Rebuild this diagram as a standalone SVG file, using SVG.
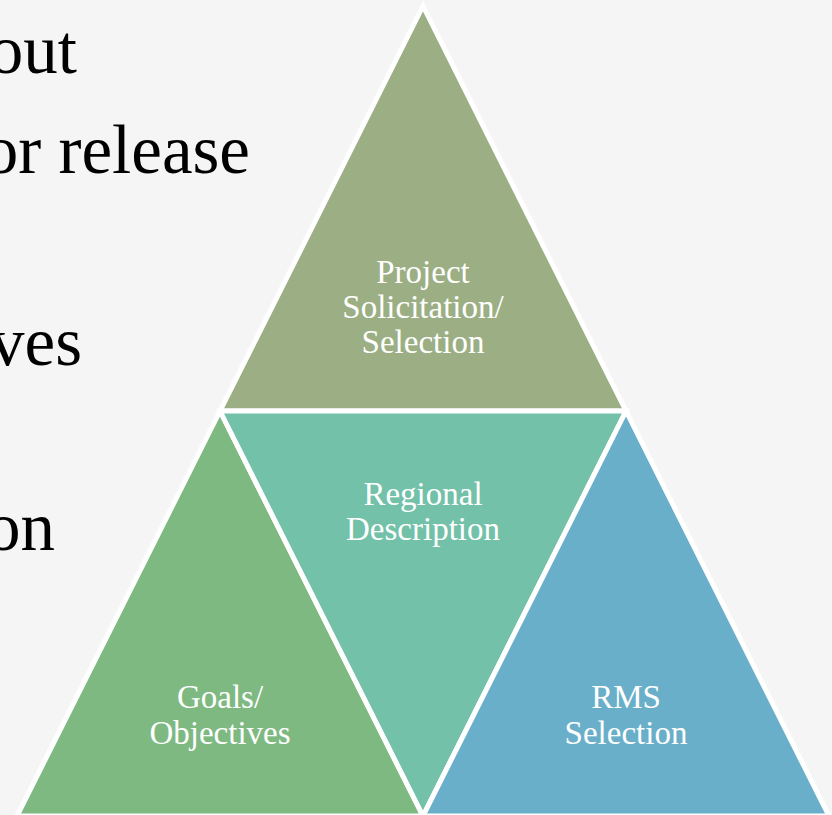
<svg xmlns="http://www.w3.org/2000/svg" width="832" height="815" viewBox="0 0 832 815">
  <style>
    .tri { stroke: #ffffff; stroke-width: 5; stroke-linejoin: miter; }
    .lbl { font-family: "Liberation Serif", "Times New Roman", serif; font-size: 33px; fill: #ffffff; text-anchor: middle; }
    .body { font-family: "Liberation Serif", "Times New Roman", serif; font-size: 69px; fill: #000000; text-anchor: end; }
  </style>
  <rect x="0" y="0" width="832" height="815" fill="#f5f5f5"/>
  <g id="bullet-text">
    <text class="body" x="77" y="73">out</text>
    <text class="body" x="250" y="173">or release</text>
    <text class="body" x="82" y="365">ves</text>
    <text class="body" x="55" y="550">on</text>
  </g>
  <g id="node-project">
    <polygon class="tri" fill="#9caf84" points="423,6 220,411 626,411"/>
    <text class="lbl" x="423" y="283">Project</text>
    <text class="lbl" x="423" y="318">Solicitation/</text>
    <text class="lbl" x="423" y="353">Selection</text>
  </g>
  <g id="node-goals">
    <polygon class="tri" fill="#7eb982" points="220,411 17,816 423,816"/>
    <text class="lbl" x="220" y="708">Goals/</text>
    <text class="lbl" x="220" y="744">Objectives</text>
  </g>
  <g id="node-regional">
    <polygon class="tri" fill="#72c1a8" points="220,411 626,411 423,816"/>
    <text class="lbl" x="423" y="505">Regional</text>
    <text class="lbl" x="423" y="540">Description</text>
  </g>
  <g id="node-rms">
    <polygon class="tri" fill="#6aafc9" points="626,411 423,816 829,816"/>
    <text class="lbl" x="626" y="708">RMS</text>
    <text class="lbl" x="626" y="744">Selection</text>
  </g>
</svg>
